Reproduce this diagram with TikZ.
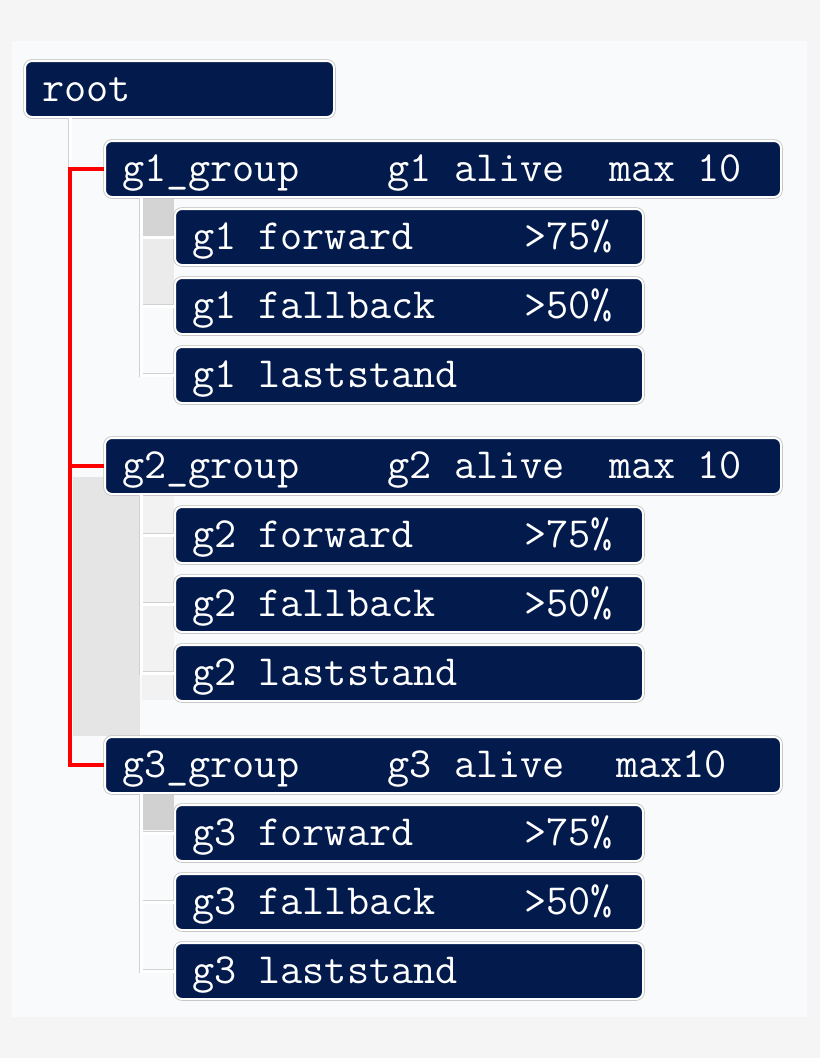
\documentclass[tikz,border=0pt]{standalone}
\usepackage{fontspec}
\usetikzlibrary{arrows}
\definecolor{navy}{HTML}{021A4C}
\definecolor{panel}{HTML}{F8FAFB}
\definecolor{page}{HTML}{F5F5F5}
\tikzstyle{tagbox}=[draw=white, line width=2pt, fill=navy, rounded corners=7pt,
  preaction={draw=black!25, line width=3.5pt},
  text=white, font=\ttfamily\fontsize{43}{46}\selectfont,
  anchor=north west, inner xsep=17pt, inner ysep=0pt, minimum height=56pt,
  text height=28pt, text depth=4pt, align=left]
\tikzstyle{rootbox}=[tagbox, text width=275pt]
\tikzstyle{groupbox}=[tagbox, text width=642pt]
\tikzstyle{leafbox}=[tagbox, text width=434pt]
\tikzstyle{stem}=[draw=white, line width=3pt, preaction={draw=black!18, line width=4.5pt}]
\tikzstyle{redline}=[draw=red, line width=4pt]
\newcommand{\tagnode}{\node}
\newcommand{\gap}{\hphantom{x}}

\begin{document}
\begin{tikzpicture}[x=1pt, y=-1pt]
\useasboundingbox (0,0) rectangle (820,1058);
% background
\fill[page] (0,0) rectangle (820,1058);
\fill[panel] (12,41) rectangle (807,1017);
% shaded patches
\fill[black!17] (142,196) rectangle (174,236);
\fill[black!8] (142,236) rectangle (174,305);
\fill[black!10] (73,477) rectangle (140,736);
\fill[black!5] (142,494) rectangle (174,700);
\fill[black!18] (142,792) rectangle (174,830);

\tagnode[rootbox] (root) at (24,60) {root};
\tagnode[groupbox] (g1) at (104,140) {g1\_group\gap\gap\gap\gap g1\gap alive\gap\gap max\gap 10};
\tagnode[leafbox] (g1f) at (174,208) {g1\gap forward\gap\gap\gap\gap\gap>75\%};
\tagnode[leafbox] (g1b) at (174,277) {g1\gap fallback\gap\gap\gap\gap>50\%};
\tagnode[leafbox] (g1l) at (174,346) {g1\gap laststand};
\tagnode[groupbox] (g2) at (104,437) {g2\_group\gap\gap\gap\gap g2\gap alive\gap\gap max\gap 10};
\tagnode[leafbox] (g2f) at (174,506) {g2\gap forward\gap\gap\gap\gap\gap>75\%};
\tagnode[leafbox] (g2b) at (174,575) {g2\gap fallback\gap\gap\gap\gap>50\%};
\tagnode[leafbox] (g2l) at (174,644) {g2\gap laststand};
\tagnode[groupbox] (g3) at (104,736) {g3\_group\gap\gap\gap\gap g3\gap alive\gap\gap\hspace{7pt}max10};
\tagnode[leafbox] (g3f) at (174,804) {g3\gap forward\gap\gap\gap\gap\gap>75\%};
\tagnode[leafbox] (g3b) at (174,873) {g3\gap fallback\gap\gap\gap\gap>50\%};
\tagnode[leafbox] (g3l) at (174,942) {g3\gap laststand};

\coordinate (fork) at ([xshift=-34pt]g1.west);
\path[stem]
([xshift=46pt]root.south west) |- (fork)
([xshift=37pt]g1.south west) |- (g1f.west)
([xshift=37pt]g1.south west) |- (g1b.west)
([xshift=37pt]g1.south west) |- (g1l.west)
([xshift=37pt]g2.south west) |- (g2f.west)
([xshift=37pt]g2.south west) |- (g2b.west)
([xshift=37pt]g2.south west) |- (g2l.west)
([xshift=37pt]g3.south west) |- (g3f.west)
([xshift=37pt]g3.south west) |- (g3b.west)
([xshift=37pt]g3.south west) |- (g3l.west)
;
\path[redline]
(g1.west) -- (fork) |- (g3.west)
(g2.west) -- ([xshift=-34pt]g2.west)
;
\end{tikzpicture}
\end{document}
